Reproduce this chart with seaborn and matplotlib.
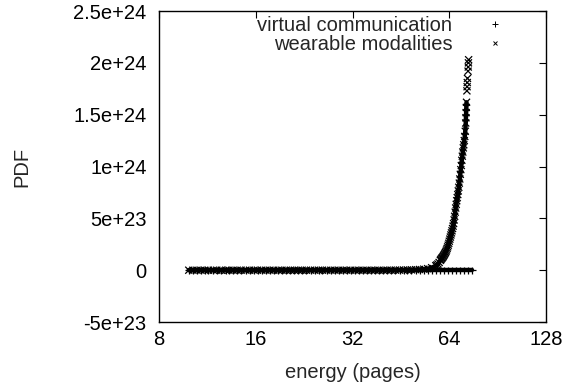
import pandas as pd
import seaborn as sns
import matplotlib
matplotlib.use('Agg')
import matplotlib.pyplot as plt
from matplotlib.lines import Line2D

# series names
series_names = ['virtual communication', 'wearable modalities']

# virtual communication: flat at zero
virtual_x = [9.9, 10.2, 10.5, 10.8, 11.1, 11.4, 11.8, 12.1, 12.5, 12.9,
             13.2, 13.6, 14.0, 14.4, 14.9, 15.3, 15.8, 16.2, 16.7, 17.2,
             17.7, 18.2, 18.8, 19.3, 19.9, 20.5, 21.1, 21.7, 22.3, 23.0,
             23.7, 24.4, 25.1, 25.8, 26.6, 27.4, 28.2, 29.0, 29.9, 30.7,
             31.6, 32.6, 33.5, 34.5, 35.5, 36.6, 37.6, 38.7, 39.9, 41.0,
             42.2, 43.5, 44.8, 46.1, 47.4, 48.8, 50.3, 51.7, 53.3, 54.8,
             56.4, 58.1, 59.8, 61.5, 63.3, 65.2, 67.1, 69.1, 71.1, 73.2,
             75.3]
virtual_y = [0, 0, 0, 0, 0, 0, 0, 0, 0, 0,
             0, 0, 0, 0, 0, 0, 0, 0, 0, 0,
             0, 0, 0, 0, 0, 0, 0, 0, 0, 0,
             0, 0, 0, 0, 0, 0, 0, 0, 0, 0,
             0, 0, 0, 0, 0, 0, 0, 0, 0, 0,
             0, 0, 0, 0, 0, 0, 0, 0, 0, 0,
             0, 0, 0, 0, 0, 0, 0, 0, 0, 0,
             0]

# wearable modalities: near zero, then a steep rise
wearable_x = [9.9, 10.2, 10.5, 10.8, 11.1, 11.4, 11.8, 12.1, 12.5, 12.9,
              13.2, 13.6, 14.0, 14.4, 14.9, 15.3, 15.8, 16.2, 16.7, 17.2,
              17.7, 18.2, 18.8, 19.3, 19.9, 20.5, 21.1, 21.7, 22.3, 23.0,
              23.7, 24.4, 25.1, 25.8, 26.6, 27.4, 28.2, 29.0, 29.9, 30.7,
              31.6, 32.6, 33.5, 34.5, 35.5, 36.6, 37.6, 38.7, 39.9, 41.0,
              42.2, 43.5, 44.8, 46.1, 47.4, 48.8, 50.3, 51.7, 53.3, 54.8,
              56.4, 58.1, 58.5, 59.0, 59.5, 60.0, 60.25, 60.5, 60.75, 61.0,
              61.25, 61.5, 61.75, 62.0, 62.25, 62.5, 62.75, 63.0, 63.25, 63.5,
              63.75, 64.0, 64.25, 64.5, 64.75, 65.0, 65.25, 65.5, 65.75, 66.0,
              66.25, 66.5, 66.75, 67.0, 67.25, 67.5, 67.75, 68.0, 68.25, 68.5,
              68.75, 69.0, 69.25, 69.5, 69.75, 70.0, 70.25, 70.5, 70.75, 71.0,
              71.25, 71.5, 71.75, 72.0, 72.1, 72.2, 72.3, 72.4, 72.6, 72.7,
              72.8, 72.9, 73.2, 73.3, 73.4, 73.5]
wearable_y = [0, 0, 0, 0, 0, 0, 0, 0, 0, 0,
              0, 0, 0, 0, 0, 0, 0, 0, 0, 0,
              0, 0, 0, 0, 0, 0, 0, 0, 0, 0,
              0, 0, 0, 0, 0, 0, 0, 0, 0, 0,
              0, 0, 0, 0, 0, 0, 0, 0, 0, 5e20,
              7e20, 1e21, 1.3e21, 1.8e21, 2.5e21, 3.5e21, 5e21, 7e21, 1.0e22, 1.5e22,
              2.4e22, 4.3e22, 5.0e22, 6.0e22, 7.5e22, 9.5e22, 1.02e23, 1.10e23, 1.18e23, 1.25e23,
              1.33e23, 1.42e23, 1.51e23, 1.61e23, 1.71e23, 1.82e23, 1.95e23, 2.10e23, 2.25e23, 2.42e23,
              2.60e23, 2.80e23, 3.00e23, 3.20e23, 3.40e23, 3.60e23, 3.80e23, 4.02e23, 4.25e23, 4.50e23,
              4.85e23, 5.20e23, 5.60e23, 6.00e23, 6.35e23, 6.70e23, 7.00e23, 7.30e23, 7.65e23, 8.00e23,
              8.40e23, 8.80e23, 9.25e23, 9.70e23, 1.01e24, 1.06e24, 1.10e24, 1.14e24, 1.18e24, 1.21e24,
              1.25e24, 1.29e24, 1.34e24, 1.42e24, 1.47e24, 1.52e24, 1.57e24, 1.62e24, 1.73e24, 1.77e24,
              1.81e24, 1.85e24, 1.92e24, 1.96e24, 2.00e24, 2.03e24]

# axis ticks
x_ticks = [8, 16, 32, 64, 128]
x_tick_labels = ['8', '16', '32', '64', '128']
y_ticks = [-5e23, 0, 5e23, 1e24, 1.5e24, 2e24, 2.5e24]
y_tick_labels = ['-5e+23', '0', '5e+23', '1e+24', '1.5e+24', '2e+24', '2.5e+24']

df = pd.concat([
    pd.DataFrame({'energy': virtual_x, 'pdf': virtual_y, 'series': series_names[0]}),
    pd.DataFrame({'energy': wearable_x, 'pdf': wearable_y, 'series': series_names[1]}),
])

sns.set_style('white')
plt.rcParams['font.family'] = ['Liberation Sans', 'DejaVu Sans']
fs = 14.5

fig = plt.figure(figsize=(5.7, 3.88), dpi=100)
ax = fig.add_axes([0.279, 0.170, 0.679, 0.8016])

# the points are so dense in the original that they merge into a thick band
band = df[df['pdf'] <= 1.62e24]
sns.lineplot(data=band, x='energy', y='pdf', units='series', estimator=None,
             color='black', linewidth=3.2, legend=False, ax=ax)

markers = {series_names[0]: '+', series_names[1]: 'x'}
sns.scatterplot(data=df, x='energy', y='pdf', style='series', markers=markers,
                color='black', s=26, linewidth=0.9, legend=False, ax=ax)

ax.set_xscale('log', base=2)
ax.set_xlim(8, 128)
ax.set_ylim(-5e23, 2.5e24)
ax.set_xticks(x_ticks)
ax.set_xticklabels(x_tick_labels)
ax.minorticks_off()
ax.set_yticks(y_ticks)
ax.set_yticklabels(y_tick_labels)
ax.tick_params(direction='in', length=5, width=0.8, top=True, right=True,
               labelsize=fs, colors='black')
ax.tick_params(axis='x', pad=6)
ax.tick_params(axis='y', pad=9)
for sp in ax.spines.values():
    sp.set_visible(True)
    sp.set_color('black')
    sp.set_linewidth(1.0)

ax.set_xlabel('energy (pages)', fontsize=fs, labelpad=10)
ax.set_ylabel('PDF', fontsize=fs, labelpad=30)

handles = [Line2D([], [], ls='', marker='+', color='black', markersize=4, markeredgewidth=0.7),
           Line2D([], [], ls='', marker='x', color='black', markersize=3.5, markeredgewidth=0.7)]
ax.legend(handles, series_names, loc='upper right', markerfirst=False, frameon=False,
          fontsize=fs, labelspacing=0.0, handletextpad=1.1, handlelength=2.0,
          borderaxespad=0.0, bbox_to_anchor=(0.94, 1.01))

fig.savefig('out.png', dpi=100)
